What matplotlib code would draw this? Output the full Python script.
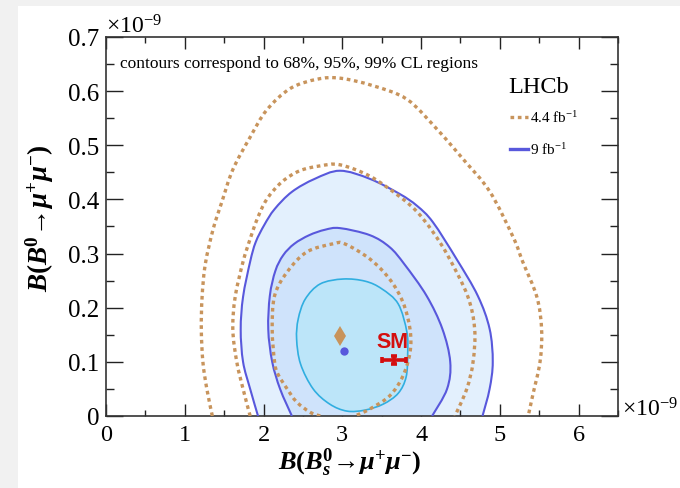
import matplotlib
matplotlib.use("Agg")
import matplotlib.pyplot as plt
from matplotlib.patches import Rectangle, PathPatch
from matplotlib.path import Path
from matplotlib.ticker import MultipleLocator

plt.rcParams['font.family'] = ['Liberation Serif', 'DejaVu Serif']
plt.rcParams['mathtext.fontset'] = 'custom'
plt.rcParams['mathtext.rm'] = 'Liberation Serif'
plt.rcParams['mathtext.it'] = 'Liberation Serif:italic'
plt.rcParams['mathtext.bf'] = 'Liberation Serif:bold'
plt.rcParams['mathtext.bfit'] = 'Liberation Serif:italic:bold'

# contour boundaries (units of 1e-9)
# 4.4 fb-1 (dotted)
d99_x = [1.35, 1.28, 1.23, 1.21, 1.22, 1.26, 1.36, 1.47, 1.61, 1.83, 2.04, 2.34, 2.68, 2.97,
         3.39, 3.82, 4.20, 4.53, 4.87, 5.17, 5.29, 5.47, 5.53, 5.51, 5.42, 5.36]
d99_y = [0.0, 0.05, 0.10, 0.16, 0.22, 0.28, 0.345, 0.395, 0.455, 0.515, 0.565, 0.605, 0.622, 0.624,
         0.61, 0.585, 0.53, 0.475, 0.415, 0.33, 0.285, 0.22, 0.16, 0.10, 0.04, 0.0]
d95_x = [1.83, 1.74, 1.66, 1.61, 1.64, 1.74, 1.83, 1.92, 2.04, 2.23, 2.46, 2.72, 2.97,
         3.35, 3.73, 3.95, 4.15, 4.34, 4.59, 4.68, 4.66, 4.58, 4.43]
d95_y = [0.0, 0.05, 0.10, 0.16, 0.22, 0.285, 0.327, 0.364, 0.40, 0.432, 0.453, 0.462, 0.464,
         0.443, 0.405, 0.377, 0.34, 0.296, 0.222, 0.161, 0.10, 0.05, 0.0]
d68_x = [2.72, 2.59, 2.42, 2.30, 2.18, 2.14, 2.11, 2.14, 2.30, 2.55, 2.88, 3.03,
         3.35, 3.60, 3.77, 3.86, 3.86, 3.77, 3.60, 3.35, 3.16]
d68_y = [0.0, 0.007, 0.026, 0.05, 0.078, 0.10, 0.16, 0.222, 0.266, 0.303, 0.318, 0.318,
         0.29, 0.253, 0.21, 0.16, 0.118, 0.074, 0.037, 0.013, 0.0]
# 9 fb-1 (filled)
s99_x = [1.93, 1.83, 1.74, 1.71, 1.74, 1.83, 1.90, 2.01, 2.14, 2.36, 2.65, 2.97,
         3.35, 3.73, 3.95, 4.15, 4.45, 4.72, 4.87, 4.91, 4.87, 4.78]
s99_y = [0.0, 0.05, 0.10, 0.16, 0.22, 0.285, 0.321, 0.353, 0.382, 0.414, 0.438, 0.453,
         0.438, 0.41, 0.388, 0.358, 0.29, 0.222, 0.161, 0.10, 0.05, 0.0]
s95_x = [2.36, 2.21, 2.11, 2.06, 2.08, 2.15, 2.25, 2.39, 2.58, 2.78, 2.97,
         3.35, 3.60, 3.79, 4.07, 4.27, 4.37, 4.33, 4.14]
s95_y = [0.0, 0.05, 0.10, 0.16, 0.222, 0.268, 0.297, 0.318, 0.334, 0.344, 0.347,
         0.334, 0.312, 0.280, 0.222, 0.161, 0.10, 0.05, 0.0]
s68_x = [3.01, 2.72, 2.53, 2.44, 2.42, 2.47, 2.63, 2.84, 3.06, 3.29, 3.52, 3.71,
         3.81, 3.83, 3.82, 3.71, 3.50, 3.29, 3.01]
s68_y = [0.253, 0.244, 0.216, 0.179, 0.142, 0.096, 0.05, 0.022, 0.009, 0.011, 0.022, 0.042,
         0.072, 0.115, 0.155, 0.207, 0.235, 0.249, 0.253]

# best fit points and SM prediction
best44 = (2.97, 0.148)
best9 = (3.02, 0.120)
sm_x, sm_y = 3.66, 0.103
sm_xerr, sm_yerr = 0.15, 0.007

tan = '#c8945c'
blue = '#5858dc'
cyan = '#30aee0'


def smooth_path(xs, ys, closed=False, fill=False):
    # bezier path running through the read points (Catmull-Rom tangents)
    pts = list(zip(xs, ys))
    if closed:
        pts = pts[:-1]
    n = len(pts)
    verts = [pts[0]]
    codes = [Path.MOVETO]
    for i in range(n if closed else n - 1):
        p0 = pts[(i - 1) % n] if closed else pts[max(i - 1, 0)]
        p1 = pts[i]
        p2 = pts[(i + 1) % n]
        p3 = pts[(i + 2) % n] if closed else pts[min(i + 2, n - 1)]
        c1 = (p1[0] + (p2[0] - p0[0]) / 6, p1[1] + (p2[1] - p0[1]) / 6)
        c2 = (p2[0] - (p3[0] - p1[0]) / 6, p2[1] - (p3[1] - p1[1]) / 6)
        verts += [c1, c2, p2]
        codes += [Path.CURVE4] * 3
    if fill:
        verts.append(pts[0])
        codes.append(Path.CLOSEPOLY)
    return Path(verts, codes)


fig = plt.figure(figsize=(6.8, 4.89), dpi=100)
fig.patch.set_facecolor('#f1f1f1')
fig.patches.append(Rectangle((18 / 680, 0), 1, 1 - 7 / 489, transform=fig.transFigure,
                             facecolor='white', edgecolor='none', zorder=-10))
ax = fig.add_axes([106 / 680, 1 - 417 / 489, 512 / 680, 379 / 489])

for xs, ys, fc, z in [(s99_x, s99_y, '#e3f0fd', 1), (s95_x, s95_y, '#cfe3fb', 2)]:
    ax.add_patch(PathPatch(smooth_path(xs, ys, fill=True), facecolor=fc, lw=0, zorder=z))
ax.add_patch(PathPatch(smooth_path(s68_x, s68_y, closed=True, fill=True),
                       facecolor='#bce5f9', lw=0, zorder=3))
ax.add_patch(PathPatch(smooth_path(s99_x, s99_y), fill=False, edgecolor=blue, lw=1.5, zorder=4))
ax.add_patch(PathPatch(smooth_path(s95_x, s95_y), fill=False, edgecolor=blue, lw=1.5, zorder=4))
ax.add_patch(PathPatch(smooth_path(s68_x, s68_y, closed=True, fill=True), fill=False,
                       edgecolor=cyan, lw=1.2, zorder=4))
for xs, ys in [(d99_x, d99_y), (d95_x, d95_y), (d68_x, d68_y)]:
    ax.add_patch(PathPatch(smooth_path(xs, ys), fill=False, edgecolor=tan, lw=2.4,
                           ls=(0, (1.1, 1.1)), zorder=5))

ax.plot(*best44, marker='d', color=tan, ms=10, mew=0, zorder=6)
ax.plot(*best9, marker='o', color=blue, ms=6, mew=0, zorder=6)
ax.errorbar(sm_x, sm_y, xerr=sm_xerr, yerr=sm_yerr, fmt='none', ecolor='#d40f0f',
            elinewidth=2.6, capsize=2, capthick=2.6, zorder=7)
ax.text(sm_x - 0.02, sm_y + 0.016, 'SM', color='#d40f0f', fontsize=15.5, fontweight='bold',
        family='Liberation Sans', ha='center', va='bottom', zorder=7)

ax.set_xlim(0, 6.5)
ax.set_ylim(0, 0.7)
ax.xaxis.set_major_locator(MultipleLocator(1))
ax.xaxis.set_minor_locator(MultipleLocator(0.5))
ax.yaxis.set_major_locator(MultipleLocator(0.1))
ax.yaxis.set_minor_locator(MultipleLocator(0.05))
ax.set_xticks(range(0, 7))
ax.set_xticklabels([str(i) for i in range(0, 7)])
ax.set_yticks([i / 10 for i in range(8)])
ax.set_yticklabels(['0'] + ['0.%d' % i for i in range(1, 8)])
ax.tick_params(axis='both', which='both', direction='in', top=True, right=True,
               width=1.0, color='#222222')
ax.tick_params(axis='x', which='major', length=8.3, pad=6, labelsize=17.5)
ax.tick_params(axis='x', which='minor', length=4)
ax.tick_params(axis='y', which='major', length=12.2, pad=5, labelsize=18)
ax.tick_params(axis='y', which='minor', length=6)
for s in ax.spines.values():
    s.set_linewidth(1.2)
    s.set_color('#333333')

ax.set_xlabel(r'$\mathbfit{B}\mathbf{(}\mathbfit{B}_{\mathbfit{s}}^{\mathbf{0}}\!\rightarrow\!\mathbfit{\mu}^{\mathbf{+}}\mathbfit{\mu}^{\mathbf{-}}\mathbf{)}$',
              fontsize=19, va='center')
ax.xaxis.set_label_coords(0.477, -0.122)
ax.set_ylabel(r'$\mathbfit{B}\mathbf{(}\mathbfit{B}^{\mathbf{0}}\!\rightarrow\!\mathbfit{\mu}^{\mathbf{+}}\mathbfit{\mu}^{\mathbf{-}}\mathbf{)}$',
              fontsize=19.5, va='center')
ax.yaxis.set_label_coords(-0.129, 0.525)

ax.text(0.0, 1.013, r'$\times10^{-9}$', transform=ax.transAxes, fontsize=17,
        ha='left', va='baseline')
ax.text(1.008, 0.0, r'$\times10^{-9}$', transform=ax.transAxes, fontsize=17,
        ha='left', va='baseline')

ax.text(0.027, 0.921, 'contours correspond to 68%, 95%, 99% CL regions',
        transform=ax.transAxes, fontsize=12.5, va='baseline')
ax.text(0.785, 0.855, 'LHCb', transform=ax.transAxes, fontsize=17.5, va='baseline')
ax.plot([0.789, 0.824], [0.789, 0.789], transform=ax.transAxes, color=tan, lw=2.4,
        ls=(0, (1.1, 1.1)), clip_on=False)
ax.plot([0.789, 0.824], [0.704, 0.704], transform=ax.transAxes, color=blue, lw=2.4,
        clip_on=False)
ax.text(0.828, 0.789, r'4.4 fb$^{-1}$', transform=ax.transAxes, fontsize=11, va='center')
ax.text(0.828, 0.704, r'9 fb$^{-1}$', transform=ax.transAxes, fontsize=11, va='center')

fig.savefig('out.png', dpi=100)
